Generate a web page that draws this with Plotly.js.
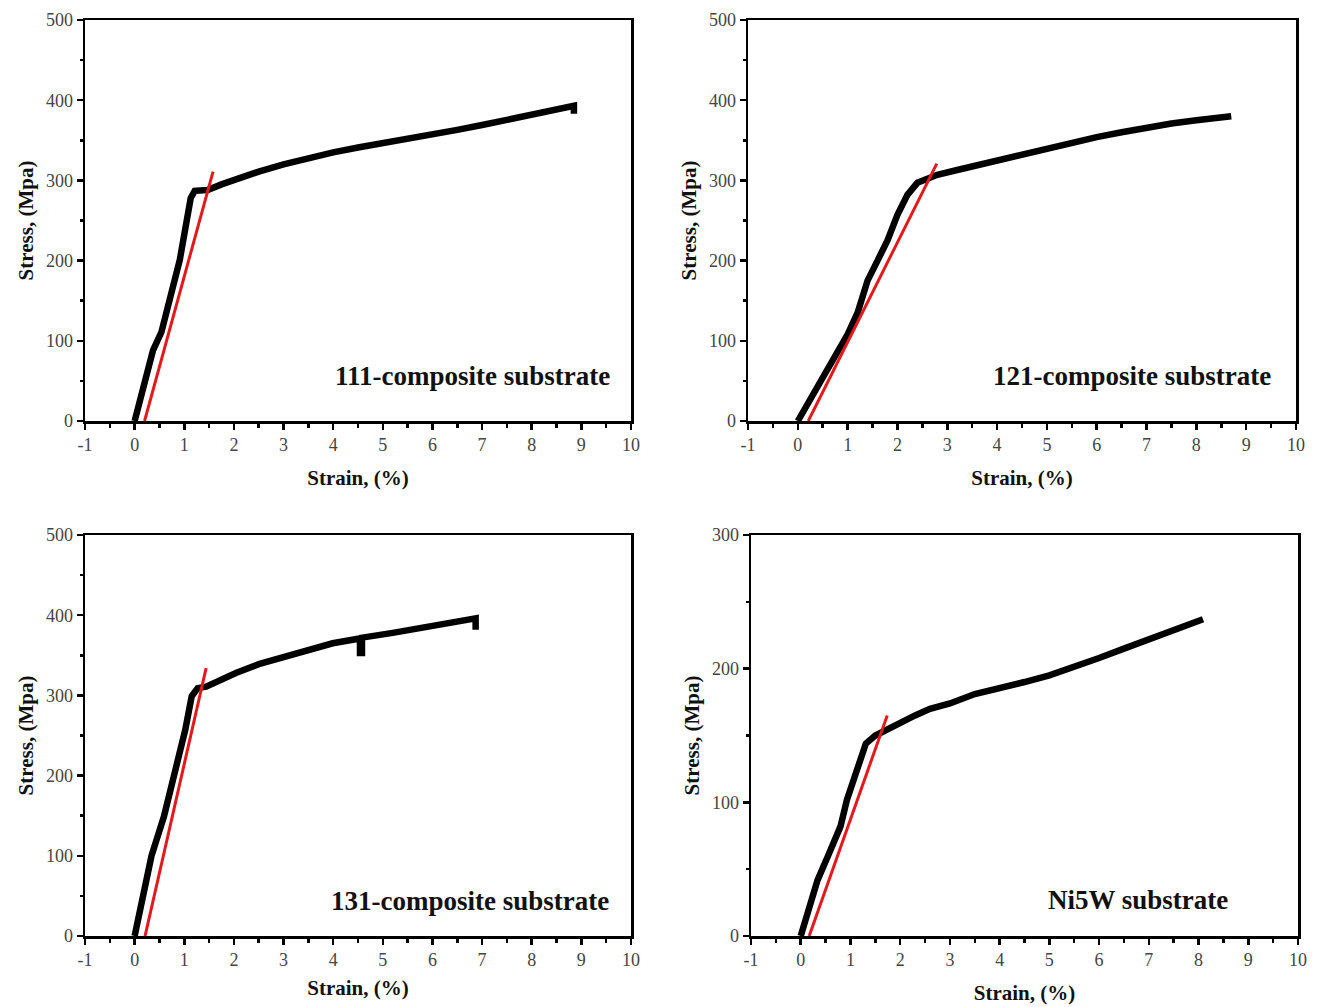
<!DOCTYPE html>
<html>
<head>
<meta charset="utf-8">
<script src="https://cdn.plot.ly/plotly-3.0.1.min.js"></script>
<style>html,body{margin:0;padding:0;background:#fff;}#chart{width:1320px;height:1007px;}</style>
</head>
<body>
<div id="chart"></div>
<script>
// ---- Data ----
const strain111 = [0, 0.2, 0.37, 0.54, 0.71, 0.91, 1.05, 1.13, 1.21, 1.47, 1.75, 2.0, 2.5, 3.0, 3.5, 4.0, 4.5, 5.0, 5.5, 6.0, 6.5, 7.0, 7.5, 8.0, 8.5, 8.85, 8.85];
const stress111 = [0, 45, 88, 111, 151, 201, 250, 278, 287, 288, 295, 301, 311, 320, 328, 335, 341, 346, 351, 357, 363, 369, 375, 381, 388, 393, 383];
const fitStrain111 = [0.2, 1.58];
const fitStress111 = [0, 311];

const strain121 = [0, 0.5, 1.0, 1.2, 1.4, 1.6, 1.8, 2.0, 2.2, 2.4, 2.6, 2.8, 3.2, 3.6, 4.0, 4.5, 5.0, 5.5, 6.0, 6.5, 7.0, 7.5, 8.0, 8.7];
const stress121 = [0, 55, 108, 135, 175, 200, 225, 257, 282, 297, 303, 307, 313, 319, 325, 332, 340, 347, 354, 360, 366, 371, 375, 380];
const fitStrain121 = [0.21, 2.79];
const fitStress121 = [0, 321];

const strain131 = [0, 0.34, 0.59, 0.76, 1.02, 1.15, 1.27, 1.44, 1.75, 2.04, 2.5, 3.05, 3.5, 3.99, 4.54, 4.54, 4.58, 4.58, 5.2, 5.77, 6.3, 6.87, 6.87];
const stress131 = [0, 100, 149, 191, 257, 299, 309, 311, 320, 328, 339, 349, 357, 365, 371, 353, 353, 372, 378, 384, 390, 396, 382];
const fitStrain131 = [0.21, 1.44];
const fitStress131 = [0, 334];

const strainNi5W = [0, 0.34, 0.55, 0.8, 0.93, 1.14, 1.31, 1.5, 1.7, 2.0, 2.3, 2.6, 3.0, 3.5, 4.0, 4.5, 5.0, 5.5, 6.0, 6.5, 7.0, 7.5, 8.09];
const stressNi5W = [0, 42, 60, 82, 102, 127, 144, 150, 154, 160, 165, 170, 174, 181, 185, 190, 195, 201, 208, 215, 222, 228, 237];
const fitStrainNi5W = [0.17, 1.74];
const fitStressNi5W = [0, 165];

const panelLabels = ["111-composite substrate", "121-composite substrate", "131-composite substrate", "Ni5W substrate"];
const xTickVals = [-1, 0, 1, 2, 3, 4, 5, 6, 7, 8, 9, 10];
const xTickText = ["-1", "0", "1", "2", "3", "4", "5", "6", "7", "8", "9", "10"];
const yTickVals500 = [0, 100, 200, 300, 400, 500];
const yTickVals300 = [0, 100, 200, 300];
const xTitle = "Strain, (%)";
const yTitle = "Stress, (Mpa)";

// ---- Styling ----
const serif = "'Liberation Serif', 'Times New Roman', serif";
const black = {color: "#000", width: 6.5};
const red = {color: "#e3191c", width: 3};

function curve(x, y, xa, ya) {
  return {x: x, y: y, xaxis: xa, yaxis: ya, mode: "lines", line: black, showlegend: false, hoverinfo: "skip"};
}
function fit(x, y, xa, ya) {
  return {x: x, y: y, xaxis: xa, yaxis: ya, mode: "lines", line: red, showlegend: false, hoverinfo: "skip"};
}

const data = [
  curve(strain111, stress111, "x", "y"), fit(fitStrain111, fitStress111, "x", "y"),
  curve(strain121, stress121, "x2", "y2"), fit(fitStrain121, fitStress121, "x2", "y2"),
  curve(strain131, stress131, "x3", "y3"), fit(fitStrain131, fitStress131, "x3", "y3"),
  curve(strainNi5W, stressNi5W, "x4", "y4"), fit(fitStrainNi5W, fitStressNi5W, "x4", "y4")
];

function xAxis(domain, anchor, standoff) {
  return {
    domain: domain, anchor: anchor, range: [-1, 10], fixedrange: true,
    showgrid: false, zeroline: false, showline: true, linecolor: "#000", linewidth: 2.5, mirror: true,
    ticks: "outside", ticklen: 6, tickwidth: 2.5, tickcolor: "#000",
    tickvals: xTickVals, ticktext: xTickText,
    minor: {dtick: 0.5, tick0: -1, ticks: "outside", ticklen: 4, tickwidth: 2.5, tickcolor: "#000", showgrid: false},
    tickfont: {family: serif, size: 18, color: "#444"},
    title: {text: xTitle, font: {family: serif, size: 21, color: "#111", weight: "bold"}, standoff: standoff}
  };
}
function yAxis(domain, anchor, max, vals) {
  return {
    domain: domain, anchor: anchor, range: [0, max], fixedrange: true,
    showgrid: false, zeroline: false, showline: true, linecolor: "#000", linewidth: 2.5, mirror: true,
    ticks: "outside", ticklen: 6, tickwidth: 2.5, tickcolor: "#000",
    tickvals: vals,
    minor: {dtick: 50, tick0: 0, ticks: "outside", ticklen: 3, tickwidth: 2.5, tickcolor: "#000", showgrid: false},
    tickfont: {family: serif, size: 18, color: "#444"},
    title: {text: yTitle, font: {family: serif, size: 21, color: "#111", weight: "bold"}, standoff: 7}
  };
}

const W = 1320, H = 1007;
const xd1 = [85 / W, 631 / W], xd2 = [748 / W, 1296 / W], xd4 = [751 / W, 1298 / W];
const yTop = [1 - 421 / H, 1 - 20 / H], yBot = [1 - 936 / H, 1 - 535 / H];

function label(text, xref, yref, x, y) {
  return {text: text, xref: xref, yref: yref, x: x, y: y, showarrow: false, xanchor: "center", yanchor: "middle",
    font: {family: serif, size: 27, color: "#111", weight: "bold"}};
}

const layout = {
  width: W, height: H, margin: {l: 0, r: 0, t: 0, b: 0},
  paper_bgcolor: "#fff", plot_bgcolor: "#fff", showlegend: false,
  xaxis: xAxis(xd1, "y", 16), yaxis: yAxis(yTop, "x", 500, yTickVals500),
  xaxis2: xAxis(xd2, "y2", 16), yaxis2: yAxis(yTop, "x2", 500, yTickVals500),
  xaxis3: xAxis(xd1, "y3", 11), yaxis3: yAxis(yBot, "x3", 500, yTickVals500),
  xaxis4: xAxis(xd4, "y4", 16), yaxis4: yAxis(yBot, "x4", 300, yTickVals300),
  annotations: [
    label(panelLabels[0], "x", "y", 6.8, 56),
    label(panelLabels[1], "x2", "y2", 6.7, 56),
    label(panelLabels[2], "x3", "y3", 6.75, 44),
    label(panelLabels[3], "x4", "y4", 6.78, 27)
  ]
};

Plotly.newPlot("chart", data, layout, {staticPlot: true, displayModeBar: false});
</script>
</body>
</html>
